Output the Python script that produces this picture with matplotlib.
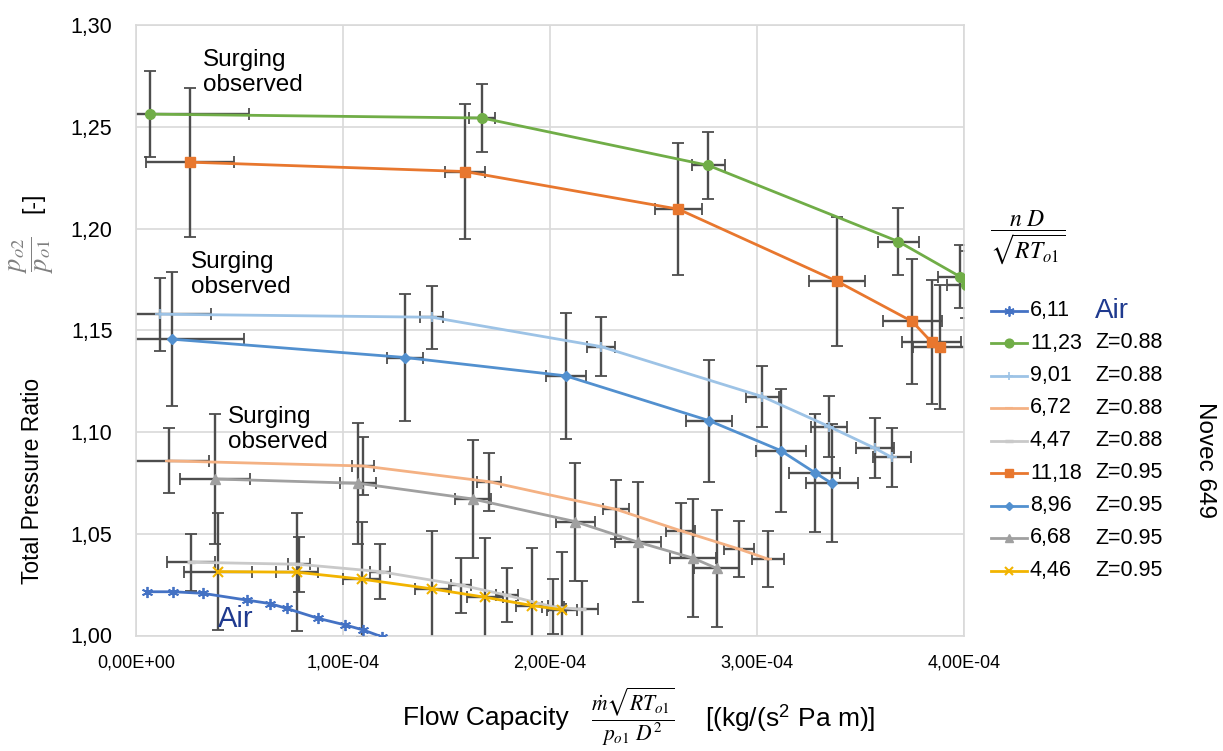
import numpy as np
import matplotlib
matplotlib.use("Agg")
import matplotlib.pyplot as plt
from matplotlib.lines import Line2D
from matplotlib.ticker import FuncFormatter

plt.rcParams['font.family'] = ['Liberation Sans', 'DejaVu Sans']
plt.rcParams['mathtext.fontset'] = 'stix'

# ---------------- data (x in units of 1e-4) ----------------
air_x = [0.052, 0.180, 0.325, 0.535, 0.647, 0.728, 0.881, 1.010, 1.098, 1.187]
air_y = [1.0215, 1.0215, 1.0207, 1.0174, 1.0157, 1.0133, 1.0084, 1.0052, 1.0027, 0.9994]

g1123_x = [0.068, 1.673, 2.765, 3.683, 3.980, 4.008]
g1123_y = [1.2562, 1.2543, 1.2310, 1.1936, 1.1764, 1.1724]
g1123_xe = [0.478, 0.063, 0.080, 0.100, 0.106, 0.090]
g1123_ye = [0.0212, 0.0166, 0.0164, 0.0165, 0.0157, 0.0163]

lb901_x = [0.116, 1.428, 2.245, 3.026, 3.348, 3.570, 3.650]
lb901_y = [1.1579, 1.1564, 1.1420, 1.1174, 1.1027, 1.0920, 1.0876]
lb901_xe = [0.246, 0.056, 0.068, 0.081, 0.087, 0.090, 0.092]
lb901_ye = [0.0180, 0.0155, 0.0147, 0.0149, 0.0148, 0.0148, 0.0145]

s672_x = [0.160, 1.098, 1.705, 2.319, 2.631, 2.913, 3.052]
s672_y = [1.0858, 1.0833, 1.0756, 1.0620, 1.0515, 1.0425, 1.0376]
s672_xe = [0.193, 0.053, 0.058, 0.064, 0.071, 0.072, 0.078]
s672_ye = [0.0160, 0.0143, 0.0142, 0.0144, 0.0135, 0.0139, 0.0139]

lg447_x = [0.266, 0.786, 1.179, 1.569, 1.791, 2.013, 2.153]
lg447_y = [1.0360, 1.0350, 1.0314, 1.0248, 1.0198, 1.0141, 1.0128]
lg447_xe = [0.116, 0.053, 0.048, 0.048, 0.053, 0.053, 0.077]
lg447_ye = [0.0140, 0.0135, 0.0135, 0.0135, 0.0133, 0.0136, 0.0140]

o1118_x = [0.261, 1.589, 2.620, 3.388, 3.750, 3.844, 3.884]
o1118_y = [1.2326, 1.2280, 1.2095, 1.1740, 1.1543, 1.1441, 1.1417]
o1118_xe = [0.212, 0.097, 0.114, 0.135, 0.143, 0.143, 0.128]
o1118_ye = [0.0366, 0.0334, 0.0324, 0.0316, 0.0306, 0.0305, 0.0304]

b896_x = [0.175, 1.301, 2.076, 2.768, 3.114, 3.280, 3.361]
b896_y = [1.1456, 1.1366, 1.1276, 1.1056, 1.0909, 1.0800, 1.0748]
b896_xe = [0.348, 0.087, 0.097, 0.111, 0.121, 0.123, 0.126]
b896_ye = [0.0330, 0.0310, 0.0310, 0.0300, 0.0300, 0.0290, 0.0290]

gr668_x = [0.382, 1.074, 1.626, 2.121, 2.424, 2.692, 2.805]
gr668_y = [1.0769, 1.0748, 1.0671, 1.0560, 1.0459, 1.0380, 1.0330]
gr668_xe = [0.169, 0.087, 0.087, 0.094, 0.111, 0.110, 0.107]
gr668_ye = [0.0320, 0.0297, 0.0292, 0.0290, 0.0293, 0.0291, 0.0288]

y446_x = [0.395, 0.776, 1.090, 1.431, 1.686, 1.915, 2.059]
y446_y = [1.0314, 1.0311, 1.0277, 1.0229, 1.0188, 1.0147, 1.0126]
y446_xe = [0.164, 0.101, 0.089, 0.082, 0.085, 0.077, 0.072]
y446_ye = [0.0287, 0.0290, 0.0283, 0.0285, 0.0290, 0.0285, 0.0285]

speed_labels = ['6,11', '11,23', '9,01', '6,72', '4,47', '11,18', '8,96', '6,68', '4,46']
group_labels = ['Air', 'Z=0.88', 'Z=0.88', 'Z=0.88', 'Z=0.88', 'Z=0.95', 'Z=0.95', 'Z=0.95', 'Z=0.95']
y_ticks = [1.00, 1.05, 1.10, 1.15, 1.20, 1.25, 1.30]
x_ticks = [0.0, 1e-4, 2e-4, 3e-4, 4e-4]

SC = 1e-4
W, H = 1223, 751

# series definitions: (x, y, xerr, yerr, color, marker, msize, mew)
series = [
    (air_x, air_y, None, None, '#4472C4', (6, 2, 0), 8, 1.3),
    (g1123_x, g1123_y, g1123_xe, g1123_ye, '#70AD47', 'o', 7, 1.0),
    (lb901_x, lb901_y, lb901_xe, lb901_ye, '#9DC3E6', '+', 7, 1.2),
    (s672_x, s672_y, s672_xe, s672_ye, '#F4B183', '_', 6, 1.5),
    (lg447_x, lg447_y, lg447_xe, lg447_ye, '#C9C9C9', '_', 6, 2.5),
    (o1118_x, o1118_y, o1118_xe, o1118_ye, '#E8772E', 's', 7, 1.0),
    (b896_x, b896_y, b896_xe, b896_ye, '#5290CF', 'D', 5, 1.0),
    (gr668_x, gr668_y, gr668_xe, gr668_ye, '#A0A0A0', '^', 7, 1.0),
    (y446_x, y446_y, y446_xe, y446_ye, '#F2B400', 'x', 7, 1.5),
]

fig = plt.figure(figsize=(W / 100, H / 100), dpi=100)
ax = fig.add_axes([136 / W, 1 - 635.5 / H, (964 - 136) / W, (635.5 - 25) / H])

for (x, y, xe, ye, c, m, ms, mew) in series:
    xs = np.array(x) * SC
    if xe is not None:
        ax.errorbar(xs, y, xerr=np.array(xe) * SC, yerr=ye, fmt='none',
                    ecolor='#4d4d4d', elinewidth=1.7, capsize=4, capthick=1.3, zorder=2)
    ax.plot(xs, y, color=c, lw=2.0, marker=m, markersize=ms, mew=mew,
            markeredgecolor=c, markerfacecolor=c, zorder=3)

ax.set_xlim(0, 4e-4)
ax.set_ylim(1.0, 1.30)
ax.set_xticks(x_ticks)
ax.set_yticks(y_ticks)
ax.xaxis.set_major_formatter(FuncFormatter(lambda v, p: f"{v:.2E}".replace('.', ',')))
ax.yaxis.set_major_formatter(FuncFormatter(lambda v, p: f"{v:.2f}".replace('.', ',')))
ax.tick_params(axis='both', length=0)
ax.tick_params(axis='y', labelsize=15.5, pad=17)
ax.tick_params(axis='x', labelsize=13, pad=14)
ax.grid(True, color='#D9D9D9', lw=1.2)
ax.set_axisbelow(True)
for s in ax.spines.values():
    s.set_color('#D9D9D9')
    s.set_linewidth(1.2)

# annotations
for (px, py) in [(203, 49), (191, 251), (228, 406)]:
    ax.text((px - 136) / 207 * SC, 1.25 - (py - 127) / 2034, 'Surging\nobserved',
            fontsize=17.5, va='top', ha='left', linespacing=1.2, zorder=5)
ax.text((218 - 136) / 207 * SC, 1.25 - (627 - 127) / 2034, 'Air', fontsize=21,
        color='#1F3A8F', va='baseline', ha='left', zorder=5)

# y label pieces
fig.text(33 / W, 1 - 481 / H, 'Total Pressure Ratio', rotation=90, fontsize=16.5,
         ha='center', va='center')
fig.text(32 / W, 1 - 255 / H, r'$\dfrac{p_{o2}}{p_{o1}}$', rotation=90, fontsize=19,
         ha='center', va='center', color='#7f7f7f')
fig.text(33 / W, 1 - 203 / H, '[-]', rotation=90, fontsize=16.5, ha='center', va='center')

# x label pieces
fig.text(403 / W, 1 - 718 / H, 'Flow Capacity', fontsize=19, ha='left', va='center')
fig.text(633 / W, 1 - 717 / H, r'$\dfrac{\dot{m}\sqrt{RT_{o1}}}{p_{o1}\ D^2}$', fontsize=15.5,
         ha='center', va='center')
fig.text(705 / W, 1 - 718 / H, r'[(kg/(s$^\mathregular{2}$ Pa m)]', fontsize=19, ha='left', va='center')

# legend (manual, figure coordinates)
fig.text(1028 / W, 1 - 238 / H, r'$\dfrac{n\ D}{\sqrt{RT_{o1}}}$', fontsize=17,
         ha='center', va='center')
for i, (ser, lab, grp) in enumerate(zip(series, speed_labels, group_labels)):
    (_, _, _, _, c, m, ms, mew) = ser
    yy = 1 - (310.5 + 32.5 * i) / H
    x0, x1 = 990.7 / W, 1026.7 / W
    fig.add_artist(Line2D([x0, (x0 + x1) / 2, x1], [yy, yy, yy], transform=fig.transFigure,
                          color=c, lw=2.0, marker=m, markersize=ms * 0.9, mew=mew,
                          markeredgecolor=c, markerfacecolor=c, markevery=[1]))
    fig.text(1030 / W, yy, lab, fontsize=15.5, ha='left', va='center')
    if grp == 'Air':
        fig.text(1095 / W, yy, grp, fontsize=20, ha='left', va='center', color='#1F3A8F')
    else:
        fig.text(1095 / W, yy, grp, fontsize=15.5, ha='left', va='center')

fig.text(1205 / W, 1 - 460 / H, 'Novec 649', rotation=270, fontsize=17.5,
         ha='center', va='center')

fig.savefig('out.png', dpi=100)
